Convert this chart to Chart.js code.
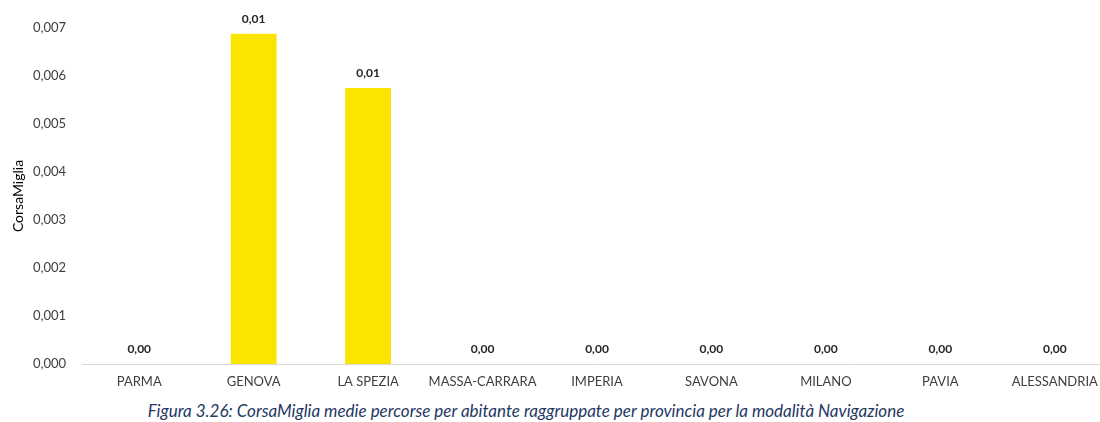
<!DOCTYPE html>
<html>
<head>
<meta charset="utf-8">
<script src="https://cdn.jsdelivr.net/npm/chart.js@4"></script>
<style>
  body { margin: 0; background: #fff; overflow: hidden; width: 1100px; height: 422px; position: relative; }
  #wrap { position: absolute; left: 0; top: 0; width: 1112px; height: 400px; }
  #caption { position: absolute; top: 400px; left: 0; width: 1052px; text-align: center;
             font-family: Lato, sans-serif; font-style: italic; font-size: 17px; color: #1f3864; }
</style>
</head>
<body>
<div id="wrap"><canvas id="myChart" width="1112" height="400"></canvas></div>
<div id="caption">Figura 3.26: CorsaMiglia medie percorse per abitante raggruppate per provincia per la modalità Navigazione</div>
<script>
const province = ['PARMA', 'GENOVA', 'LA SPEZIA', 'MASSA-CARRARA', 'IMPERIA', 'SAVONA', 'MILANO', 'PAVIA', 'ALESSANDRIA'];
const corsaMiglia = [0, 0.00688, 0.00575, 0, 0, 0, 0, 0, 0];
const yMax = 0.007;
const yStep = 0.001;

const ctx = document.getElementById('myChart').getContext('2d');

// etichette sopra le barre, stile Excel
const valueLabels = {
    id: 'valueLabels',
    afterDatasetsDraw(chart) {
        const c = chart.ctx;
        const meta = chart.getDatasetMeta(0);
        c.save();
        c.font = 'bold 12px Lato, sans-serif';
        c.fillStyle = '#262626';
        c.textAlign = 'center';
        c.textBaseline = 'middle';
        meta.data.forEach(function (bar, i) {
            const txt = corsaMiglia[i].toFixed(2).replace('.', ',');
            c.fillText(txt, bar.x, bar.y - 15);
        });
        c.restore();
    }
};

const myChart = new Chart(ctx, {
    type: 'bar',
    data: {
        labels: province,
        datasets: [{
            label: 'CorsaMiglia',
            data: corsaMiglia,
            backgroundColor: '#f9e500',
            barPercentage: 0.4,
            categoryPercentage: 1
        }]
    },
    options: {
        responsive: false,
        animation: false,
        layout: { padding: { top: 28, right: 0, left: 0, bottom: 0 } },
        plugins: {
            legend: { display: false },
            tooltip: { enabled: false }
        },
        scales: {
            x: {
                grid: { display: false, drawTicks: false },
                border: { color: '#d9d9d9', width: 1 },
                ticks: {
                    color: '#404040',
                    font: { family: 'Lato, sans-serif', size: 13 },
                    padding: 10,
                    maxRotation: 0
                },
                afterFit(scale) { scale.height = 36; }
            },
            y: {
                min: 0,
                max: yMax,
                grid: { display: false, drawTicks: false },
                border: { display: false },
                ticks: {
                    stepSize: yStep,
                    color: '#404040',
                    font: { family: 'Lato, sans-serif', size: 13 },
                    padding: 16,
                    callback: function (v) { return v.toFixed(3).replace('.', ','); }
                },
                title: {
                    display: true,
                    text: 'CorsaMiglia',
                    color: '#000',
                    font: { family: 'Lato, sans-serif', size: 14 },
                    padding: { top: 10, bottom: 0 }
                },
                afterFit(scale) { scale.width = 82; }
            }
        }
    },
    plugins: [valueLabels]
});
</script>
</body>
</html>
